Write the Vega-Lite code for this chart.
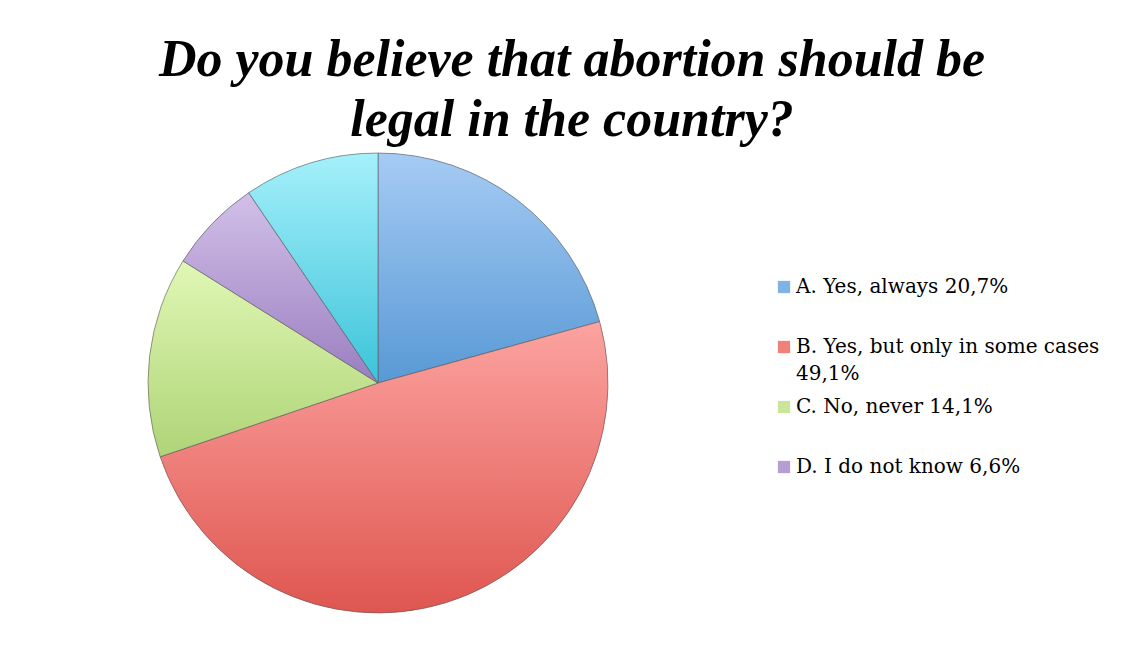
{
  "$schema": "https://vega.github.io/schema/vega-lite/v6.json",
  "width": 460,
  "height": 460,
  "autosize": "none",
  "padding": {"left": 148, "top": 153, "right": 525, "bottom": 44},
  "background": "white",
  "title": {
    "text": ["Do you believe that abortion should be", "legal in the country?"],
    "font": "Liberation Serif",
    "fontSize": 52,
    "fontStyle": "italic",
    "fontWeight": "bold",
    "color": "black",
    "anchor": "middle",
    "dx": 194,
    "offset": 5,
    "lineHeight": 60
  },
  "data": {
    "values": [
      {"answer": "A. Yes, always 20,7%", "share": 20.7},
      {"answer": "B. Yes, but only in some cases 49,1%", "share": 49.1},
      {"answer": "C. No, never 14,1%", "share": 14.1},
      {"answer": "D. I do not know 6,6%", "share": 6.6},
      {"answer": "E. Other 9,5%", "share": 9.5}
    ]
  },
  "encoding": {
    "theta": {"field": "share", "type": "quantitative", "stack": true},
    "order": {"field": "answer", "type": "ordinal", "sort": "ascending"}
  },
  "layer": [
    {
      "mark": {"type": "arc"},
      "encoding": {
        "color": {
          "field": "answer",
          "type": "nominal",
          "scale": {
            "domain": ["A. Yes, always 20,7%", "B. Yes, but only in some cases 49,1%", "C. No, never 14,1%", "D. I do not know 6,6%", "E. Other 9,5%"],
            "range": ["#7fb2e5", "#f0807a", "#cbe699", "#b69ed3", "#70dbeb"]
          },
          "legend": {
            "title": null,
            "orient": "none",
            "legendX": 626,
            "legendY": 124,
            "values": ["A. Yes, always 20,7%", "B. Yes, but only in some cases 49,1%", "C. No, never 14,1%", "D. I do not know 6,6%"],
            "symbolType": "square",
            "symbolSize": 150,
            "symbolStrokeWidth": 0,
            "labelFont": "DejaVu Serif",
            "labelFontSize": 20,
            "labelColor": "black",
            "labelLimit": 0,
            "labelOffset": 2,
            "rowPadding": 13,
            "gridAlign": "all",
            "labelExpr": "datum.label == 'B. Yes, but only in some cases 49,1%' ? ['B. Yes, but only in some cases', '49,1%'] : datum.label"
          }
        }
      }
    },
    {
      "mark": {"type": "arc", "stroke": "#5a5a5a", "strokeWidth": 0.6},
      "encoding": {
        "fill": {
          "condition": [
            {"test": "datum.answer == 'A. Yes, always 20,7%'", "value": {"gradient": "linear", "x1": 0, "y1": 0, "x2": 0, "y2": 1, "stops": [{"offset": 0, "color": "#a6cbf4"}, {"offset": 1, "color": "#5899d5"}]}},
            {"test": "datum.answer == 'B. Yes, but only in some cases 49,1%'", "value": {"gradient": "linear", "x1": 0, "y1": 0, "x2": 0, "y2": 1, "stops": [{"offset": 0, "color": "#fca3a0"}, {"offset": 1, "color": "#df5650"}]}},
            {"test": "datum.answer == 'C. No, never 14,1%'", "value": {"gradient": "linear", "x1": 0, "y1": 0, "x2": 0, "y2": 1, "stops": [{"offset": 0, "color": "#e0f7b5"}, {"offset": 1, "color": "#afd477"}]}},
            {"test": "datum.answer == 'D. I do not know 6,6%'", "value": {"gradient": "linear", "x1": 0, "y1": 0, "x2": 0, "y2": 1, "stops": [{"offset": 0, "color": "#d2c0e8"}, {"offset": 1, "color": "#9a7ec0"}]}}
          ],
          "value": {"gradient": "linear", "x1": 0, "y1": 0, "x2": 0, "y2": 1, "stops": [{"offset": 0, "color": "#a5f0fb"}, {"offset": 1, "color": "#3cc3d9"}]}
        }
      }
    }
  ],
  "config": {
    "view": {"stroke": null},
    "style": {"guide-label": {"lineHeight": 27}}
  }
}
